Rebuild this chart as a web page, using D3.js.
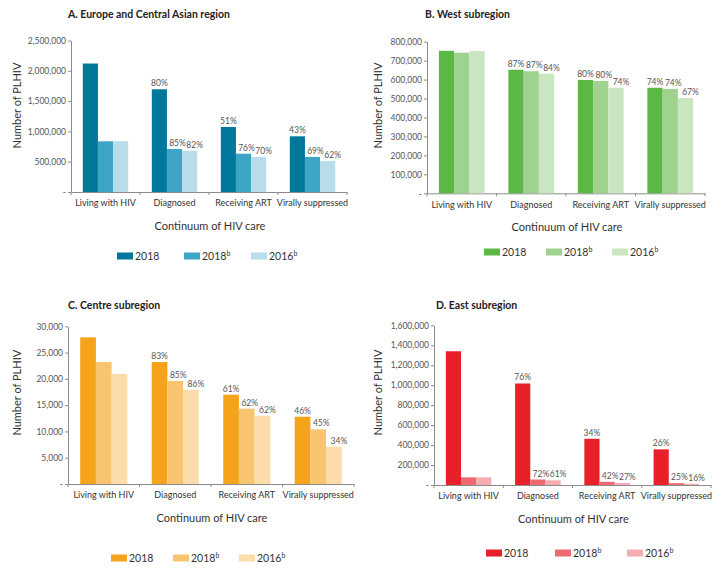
<!DOCTYPE html>
<html>
<head>
<meta charset="utf-8">
<script src="https://cdn.jsdelivr.net/npm/d3@7"></script>
<style>
  body { margin: 0; background: #fff; }
  svg { font-family: Lato, "Open Sans", sans-serif; }
</style>
</head>
<body>
<div id="chart"></div>
<script>
// categories and series
var categories = ["Living with HIV", "Diagnosed", "Receiving ART", "Virally suppressed"];
var seriesNames = ["2018", "2018b", "2016b"];

// A. Europe and Central Asian region
var europe2018  = [2120000, 1695000, 1073000, 919000];
var europe2018b = [837000, 710000, 632000, 578000];
var europe2016b = [837000, 680000, 578000, 512000];
var europePct   = [[80, 51, 43], [85, 76, 69], [82, 70, 62]];

// B. West subregion
var west2018  = [752000, 652000, 598000, 557000];
var west2018b = [742000, 644000, 593000, 551000];
var west2016b = [751000, 631000, 557000, 503000];
var westPct   = [[87, 80, 74], [87, 80, 74], [84, 74, 67]];

// C. Centre subregion
var centre2018  = [27900, 23200, 16990, 12800];
var centre2018b = [23200, 19590, 14330, 10400];
var centre2016b = [20920, 17940, 12990, 7100];
var centrePct   = [[83, 61, 46], [85, 62, 45], [86, 62, 34]];

// D. East subregion
var east2018  = [1340000, 1017000, 463000, 357000];
var east2018b = [77000, 55000, 32000, 19000];
var east2016b = [77000, 47000, 21000, 12000];
var eastPct   = [[76, 34, 26], [72, 42, 25], [61, 27, 16]];

var width = 725, height = 572;

var panels = [
  { title: "A. Europe and Central Asian region", vals: [europe2018, europe2018b, europe2016b], pct: europePct,
    colors: ["#00789c", "#3fa5c7", "#b8dcea"], max: 2500000, step: 500000,
    left: 71, right: 347, top: 40.5, base: 192, titleX: 68, titleY: 18,
    yTitleX: 20.5, yTitleY: 105.5, legendY: 256, legendX: [117, 184, 251] },
  { title: "B. West subregion", vals: [west2018, west2018b, west2016b], pct: westPct,
    colors: ["#5cb845", "#9fd28f", "#c9e6c0"], max: 800000, step: 100000,
    left: 427, right: 705, top: 41.7, base: 193.3, titleX: 425, titleY: 18,
    yTitleX: 382, yTitleY: 105.5, legendY: 252, legendX: [484, 546, 612] },
  { title: "C. Centre subregion", vals: [centre2018, centre2018b, centre2016b], pct: centrePct,
    colors: ["#f5a31b", "#f9c46f", "#fcdcab"], max: 30000, step: 5000,
    left: 68, right: 354, top: 326.3, base: 484, titleX: 68, titleY: 309,
    yTitleX: 20.5, yTitleY: 392.7, legendY: 558, legendX: [111, 173, 239] },
  { title: "D. East subregion", vals: [east2018, east2018b, east2016b], pct: eastPct,
    colors: ["#e8202a", "#ee6a70", "#f4aeb1"], max: 1600000, step: 200000,
    left: 434, right: 711, top: 325.3, base: 485, titleX: 436, titleY: 309,
    yTitleX: 381.5, yTitleY: 392.5, legendY: 553, legendX: [486, 555, 627] }
];

// labels of the lighter series sit a little right of their bar, as in the source
var labelShift = [0, 3, 5];

var svg = d3.select("#chart").append("svg")
  .attr("width", width)
  .attr("height", height);

var fmt = d3.format(",");

panels.forEach(function(p) {
  var g = svg.append("g");

  var x0 = d3.scaleBand().domain(categories).range([p.left, p.right]).padding(0);
  var x1 = d3.scaleBand().domain(seriesNames).range([0, x0.bandwidth()])
    .paddingInner(0).paddingOuter(0.78);
  var y = d3.scaleLinear().domain([0, p.max]).range([p.base, p.top]);

  // title
  g.append("text")
    .attr("x", p.titleX).attr("y", p.titleY)
    .attr("font-size", 10.5).attr("font-weight", "bold").attr("fill", "#222")
    .text(p.title);

  // y axis
  var yAxis = d3.axisLeft(y)
    .tickValues(d3.range(0, p.max + p.step / 2, p.step))
    .tickSizeInner(3).tickSizeOuter(0).tickPadding(2)
    .tickFormat(function(d) { return d === 0 ? "-" : fmt(d); });
  var ya = g.append("g").attr("transform", "translate(" + p.left + ",0)").call(yAxis);
  ya.attr("font-family", null);
  ya.select(".domain").attr("stroke", "#8c8c8c");
  ya.selectAll(".tick line").attr("stroke", "#8c8c8c");
  ya.selectAll(".tick text").attr("font-size", 8.5).attr("fill", "#555");

  // x axis with category labels
  var xAxis = d3.axisBottom(x0).tickSize(0).tickPadding(8);
  var xa = g.append("g").attr("transform", "translate(0," + p.base + ")").call(xAxis);
  xa.attr("font-family", null);
  xa.select(".domain").attr("stroke", "#8c8c8c");
  xa.selectAll(".tick text").attr("font-size", 9).attr("fill", "#333");

  // boundary ticks
  var bounds = categories.map(function(c) { return x0(c); }).concat([p.right]);
  g.selectAll("line.bound").data(bounds).enter().append("line")
    .attr("class", "bound")
    .attr("x1", function(d) { return d; }).attr("x2", function(d) { return d; })
    .attr("y1", p.base).attr("y2", p.base + 3)
    .attr("stroke", "#8c8c8c");

  // bars
  seriesNames.forEach(function(s, si) {
    g.selectAll("rect.s" + si).data(p.vals[si]).enter().append("rect")
      .attr("class", "s" + si)
      .attr("x", function(d, i) { return x0(categories[i]) + x1(s); })
      .attr("width", x1.bandwidth())
      .attr("y", function(d) { return y(d); })
      .attr("height", function(d) { return p.base - y(d); })
      .attr("fill", p.colors[si]);

    // percentage labels (categories 2-4)
    g.selectAll("text.p" + si).data(p.pct[si]).enter().append("text")
      .attr("class", "p" + si)
      .attr("x", function(d, i) {
        return x0(categories[i + 1]) + x1(s) + x1.bandwidth() / 2 + labelShift[si];
      })
      .attr("y", function(d, i) { return y(p.vals[si][i + 1]) - 3; })
      .attr("text-anchor", "middle")
      .attr("font-size", 8.5).attr("fill", "#555")
      .text(function(d) { return d + "%"; });
  });

  // y title
  g.append("text")
    .attr("transform", "translate(" + p.yTitleX + "," + p.yTitleY + ") rotate(-90)")
    .attr("text-anchor", "middle").attr("font-size", 11).attr("fill", "#333")
    .text("Number of PLHIV");

  // x title
  g.append("text")
    .attr("x", (p.left + p.right) / 2 + 1).attr("y", p.base + 38)
    .attr("text-anchor", "middle").attr("font-size", 11).attr("fill", "#333")
    .text("Continuum of HIV care");

  // legend
  seriesNames.forEach(function(s, si) {
    var lx = p.legendX[si];
    g.append("rect")
      .attr("x", lx).attr("y", p.legendY - 3.5)
      .attr("width", 16).attr("height", 7)
      .attr("fill", p.colors[si]);
    var t = g.append("text")
      .attr("x", lx + 18).attr("y", p.legendY + 3.5)
      .attr("font-size", 10.5).attr("fill", "#333");
    t.append("tspan").text(s.slice(0, 4));
    if (s.length > 4) {
      t.append("tspan").attr("font-size", 7).attr("dy", -4).text(s.slice(4));
    }
  });
});
</script>
</body>
</html>
